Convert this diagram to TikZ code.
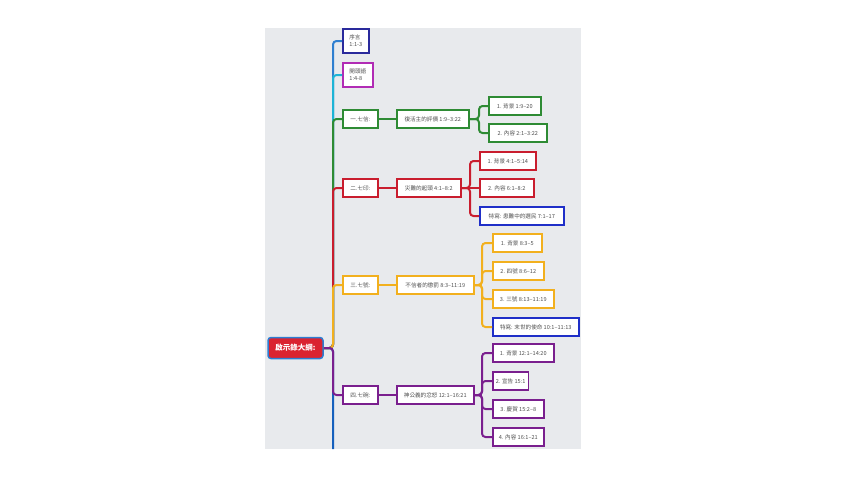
\documentclass[tikz,border=0pt]{standalone}
\usepackage{fontspec}
\newfontfamily\cjk{Noto Sans CJK TC}
\definecolor{panel}{HTML}{E8EAED}
\definecolor{cnavy}{HTML}{2A2A9C}
\definecolor{cmag}{HTML}{B12CB5}
\definecolor{cgreen}{HTML}{2E8B34}
\definecolor{cred}{HTML}{C91D2E}
\definecolor{corange}{HTML}{F2B01E}
\definecolor{cpurple}{HTML}{7A1F8E}
\definecolor{cblue}{HTML}{1F2FC8}
\definecolor{tblue}{HTML}{2F7FD0}
\definecolor{tcyan}{HTML}{1DB4D6}
\definecolor{tdeep}{HTML}{1560BD}
\definecolor{rootred}{HTML}{DA2330}
\definecolor{rootborder}{HTML}{2C7DD2}
\definecolor{txt}{HTML}{505050}
\begin{document}
\begin{tikzpicture}[x=1pt,y=-1pt,
  box/.style={draw=#1, line width=1.6, fill=white, anchor=west, minimum height=18,
    inner xsep=3, inner ysep=2, font=\cjk\fontsize{5.6}{7}\selectfont, text=txt, align=center},
  rootbox/.style={draw=rootborder, fill=rootred, line width=1.5, rounded corners=3,
    minimum width=55, minimum height=21, inner sep=2, text=white,
    font=\cjk\bfseries\fontsize{7.5}{8}\selectfont},
  link/.style={line width=2, rounded corners=3.5}]
\useasboundingbox (0,0) rectangle (847,477);
\fill[panel] (265,28) rectangle (581,449);
% coordinates
\coordinate (trunk) at (333,0);
\coordinate (tend) at (333,449);
\coordinate (b1) at (479,0);
\coordinate (b2) at (470,0);
\coordinate (b3) at (482,0);
\coordinate (b4) at (482,0);
% root
\node[rootbox] (root) at (295.5,348) {啟示錄大綱:};
% level 1
\node[box=cnavy, minimum width=26, minimum height=24, align=left] (p0) at (342,41) {序言\\1:1-3};
\node[box=cmag, minimum width=30, minimum height=24, align=left] (p1) at (342,75) {開頭語\\1:4-8};
\node[box=cgreen, minimum width=35] (s1) at (342,119) {一.七信:};
\node[box=cred, minimum width=35] (s2) at (342,188) {二.七印:};
\node[box=corange, minimum width=35] (s3) at (342,285) {三.七號:};
\node[box=cpurple, minimum width=35] (s4) at (342,395) {四.七碗:};
% level 2
\node[box=cgreen, minimum width=72] (m1) at (396,119) {復活主的評價 1:9–3:22};
\node[box=cred, minimum width=64] (m2) at (396,188) {災難的起頭 4:1–8:2};
\node[box=corange, minimum width=77] (m3) at (396,285) {不信者的懲罰 8:3–11:19};
\node[box=cpurple, minimum width=77] (m4) at (396,395) {神公義的忿怒 12:1–16:21};
% level 3
\node[box=cgreen, minimum width=52] (c11) at (488,106) {1. 背景 1:9–20};
\node[box=cgreen, minimum width=58] (c12) at (488,133) {2. 內容 2:1–3:22};
\node[box=cred, minimum width=56] (c21) at (479,161) {1. 背景 4:1–5:14};
\node[box=cred, minimum width=54] (c22) at (479,188) {2. 內容 6:1–8:2};
\node[box=cblue, minimum width=84] (c23) at (479,216) {特寫: 患難中的選民 7:1–17};
\node[box=corange, minimum width=49] (c31) at (492,243) {1. 背景 8:3–5};
\node[box=corange, minimum width=51] (c32) at (492,271) {2. 四號 8:6–12};
\node[box=corange, minimum width=61] (c33) at (492,299) {3. 三號 8:13–11:19};
\node[box=cblue, minimum width=86] (c34) at (492,327) {特寫: 末世的使命 10:1–11:13};
\node[box=cpurple, minimum width=61] (c41) at (492,353) {1. 背景 12:1–14:20};
\node[box=cpurple, minimum width=35] (c42) at (492,381) {2. 宣告 15:1};
\node[box=cpurple, minimum width=51] (c43) at (492,409) {3. 慶賀 15:2–8};
\node[box=cpurple, minimum width=51] (c44) at (492,437) {4. 內容 16:1–21};
% trunk connectors
\draw[link, tblue] (root.east) -- (root.east -| trunk) |- (p0.west);
\draw[link, tcyan] (root.east) -- (root.east -| trunk) |- (p1.west);
\draw[link, cgreen] (root.east) -- (root.east -| trunk) |- (s1.west);
\draw[link, cred] (root.east) -- (root.east -| trunk) |- (s2.west);
\draw[link, corange] (root.east) -- (root.east -| trunk) |- (s3.west);
\draw[link, tdeep] (root.east) -- (root.east -| trunk) -- (tend);
\draw[link, cpurple] (root.east) -- (root.east -| trunk) |- (s4.west);
% level1 -> level2
\draw[link, cgreen] (s1.east) -- (m1.west);
\draw[link, cred] (s2.east) -- (m2.west);
\draw[link, corange] (s3.east) -- (m3.west);
\draw[link, cpurple] (s4.east) -- (m4.west);
% level2 -> level3
\draw[link, cgreen] (m1.east) -- (m1.east -| b1) |- (c11.west);
\draw[link, cgreen] (m1.east) -- (m1.east -| b1) |- (c12.west);
\draw[link, cred] (m2.east) -- (m2.east -| b2) |- (c21.west);
\draw[link, cred] (m2.east) -- (c22.west);
\draw[link, cred] (m2.east) -- (m2.east -| b2) |- (c23.west);
\draw[link, corange] (m3.east) -- (m3.east -| b3) |- (c31.west);
\draw[link, corange] (m3.east) -- (m3.east -| b3) |- (c32.west);
\draw[link, corange] (m3.east) -- (m3.east -| b3) |- (c33.west);
\draw[link, corange] (m3.east) -- (m3.east -| b3) |- (c34.west);
\draw[link, cpurple] (m4.east) -- (m4.east -| b4) |- (c41.west);
\draw[link, cpurple] (m4.east) -- (m4.east -| b4) |- (c42.west);
\draw[link, cpurple] (m4.east) -- (m4.east -| b4) |- (c43.west);
\draw[link, cpurple] (m4.east) -- (m4.east -| b4) |- (c44.west);
\end{tikzpicture}
\end{document}
